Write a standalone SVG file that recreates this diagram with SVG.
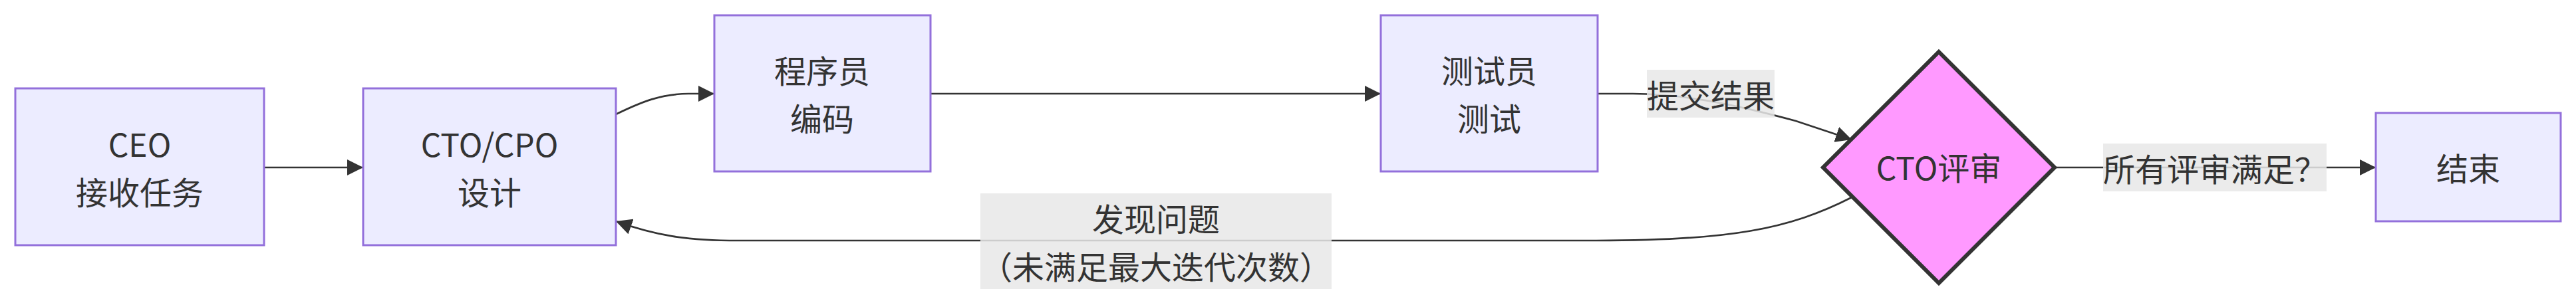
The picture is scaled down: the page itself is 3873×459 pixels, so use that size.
<svg xmlns="http://www.w3.org/2000/svg" width="3873" height="459" viewBox="0 0 3873 459">
<style>
.node rect{fill:#ECECFF;stroke:#9370DB;stroke-width:3}
.dec polygon{fill:#ff99ff;stroke:#333;stroke-width:6;stroke-linejoin:miter}
text{font-family:"Noto Sans CJK SC","Noto Sans",sans-serif;font-size:48px;fill:#333;text-anchor:middle;dominant-baseline:central}
.edge{fill:none;stroke:#333;stroke-width:2.7}
.lbl{fill:#e8e8e8;fill-opacity:0.85}
</style>
<defs>
<marker id="arr" viewBox="0 0 24 24" refX="24" refY="12" markerWidth="24" markerHeight="24" markerUnits="userSpaceOnUse" orient="auto">
<path d="M0,0 L24,12 L0,24 z" fill="#333"/>
</marker>
</defs>
<rect width="3873" height="459" fill="#fff"/>
<g id="connectors">
<path class="edge" d="M397,252 L546,252" marker-end="url(#arr)"/>
<path class="edge" d="M926,172 C965,153 995,141 1035,141 L1074,141" marker-end="url(#arr)"/>
<path class="edge" d="M1399,141 L2076,141" marker-end="url(#arr)"/>
<path class="edge" d="M2402,141 L2455,141 C2525,141 2600,155 2700,182 L2784,210" marker-end="url(#arr)"/>
<path class="edge" d="M3089,252 L3572,252" marker-end="url(#arr)"/>
<path class="edge" d="M2784,297 C2690,345 2600,362 2400,362 L1110,362 C1030,362 985,354 926,333" marker-end="url(#arr)"/>
</g>
<g id="label-submit">
<rect class="lbl" x="2476" y="105" width="192" height="72"/>
<text x="2572" y="141">提交结果</text>
</g>
<g id="label-done">
<rect class="lbl" x="3162" y="216" width="336" height="72"/>
<text x="3330" y="252">所有评审满足？</text>
</g>
<g id="label-issue">
<rect class="lbl" x="1474" y="291" width="528" height="144"/>
<text x="1738" y="327">发现问题</text>
<text x="1738" y="399">（未满足最大迭代次数）</text>
</g>
<g id="ceo" class="node">
<rect x="23" y="133" width="374" height="236"/>
<text x="210" y="215">CEO</text>
<text x="210" y="287">接收任务</text>
</g>
<g id="cto" class="node">
<rect x="546" y="133" width="380" height="236"/>
<text x="736" y="215">CTO/CPO</text>
<text x="736" y="287">设计</text>
</g>
<g id="dev" class="node">
<rect x="1074" y="23" width="325" height="235"/>
<text x="1236" y="104">程序员</text>
<text x="1236" y="176">编码</text>
</g>
<g id="qa" class="node">
<rect x="2076" y="23" width="326" height="235"/>
<text x="2239" y="104">测试员</text>
<text x="2239" y="176">测试</text>
</g>
<g id="review" class="dec">
<polygon points="2915,78 3089,252 2915,426 2741,252"/>
<text x="2915" y="250">CTO评审</text>
</g>
<g id="end" class="node">
<rect x="3572" y="170" width="278" height="163"/>
<text x="3711" y="251">结束</text>
</g>
</svg>
